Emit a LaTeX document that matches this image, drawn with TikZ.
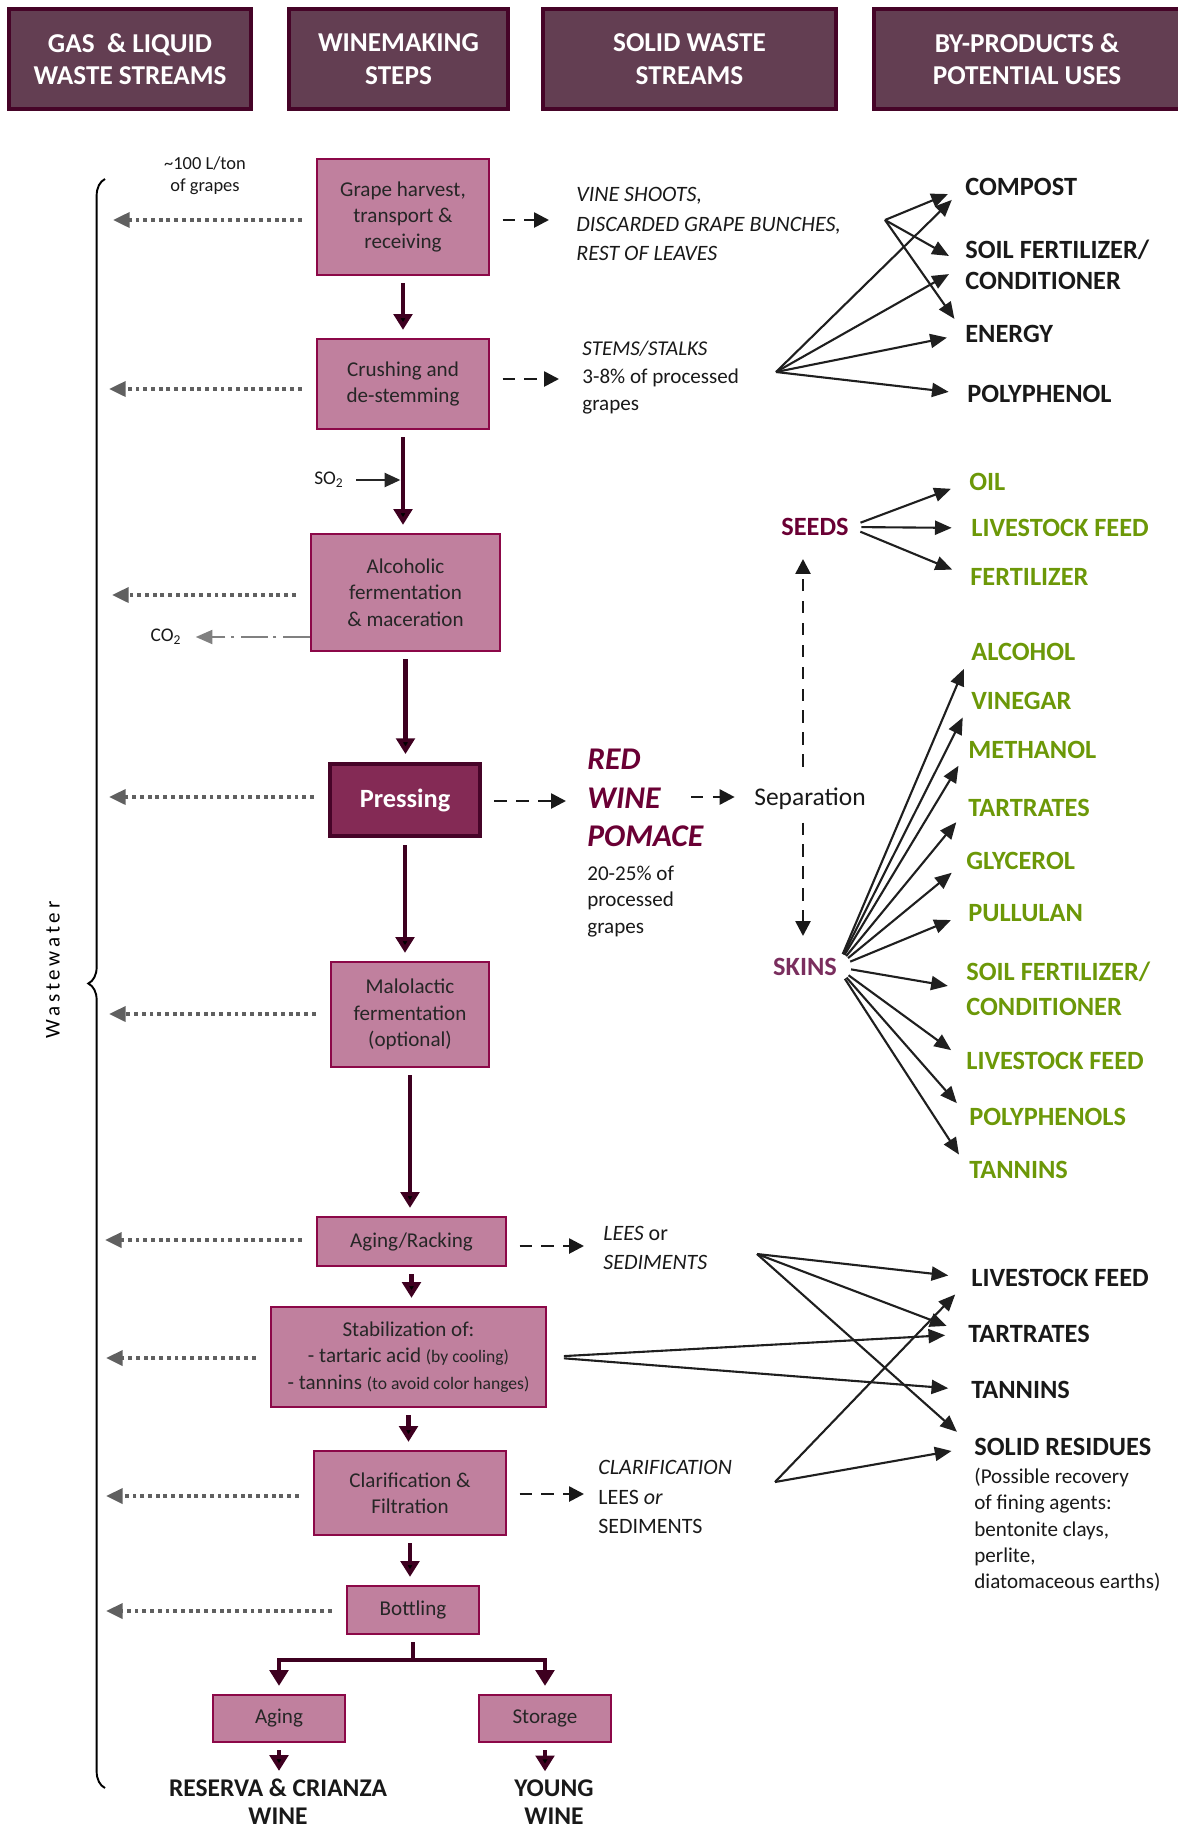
\documentclass[tikz,border=0pt]{standalone}
\usepackage{fontspec}
\setmainfont{Carlito}
\usetikzlibrary{arrows.meta,positioning,decorations.pathreplacing}
\definecolor{headfill}{RGB}{99,62,82}
\definecolor{headline}{RGB}{70,4,40}
\definecolor{boxfill}{RGB}{192,128,158}
\definecolor{boxline}{RGB}{140,8,72}
\definecolor{pressfill}{RGB}{132,42,85}
\definecolor{flowcol}{RGB}{62,0,32}
\definecolor{pomacecol}{RGB}{106,0,52}
\definecolor{skincol}{RGB}{122,46,94}
\definecolor{leafgreen}{RGB}{108,152,8}
\definecolor{watergray}{RGB}{96,96,96}

\begin{document}
\begin{tikzpicture}[x=0.02cm,y=-0.02cm,
  head box/.style={draw=headline,line width=2.3pt,fill=headfill,text=white,align=center,font=\fontsize{15.5}{18.5}\selectfont\bfseries,minimum height=2cm},
  stage box/.style={draw=boxline,line width=1.4pt,fill=boxfill,text=black!85,align=center,font=\fontsize{12}{15}\selectfont,inner sep=0pt},
  press box/.style={draw=headline,line width=2.3pt,fill=pressfill,text=white,font=\fontsize{15}{18}\selectfont\bfseries,minimum width=3cm,minimum height=1.44cm},
  main flow/.style={draw=flowcol,line width=2.8pt,-{Triangle[length=9pt,width=10.5pt]},shorten <=4pt,shorten >=4.5pt},
  water flow/.style={draw=watergray,line width=2.2pt,dash pattern=on 2.2pt off 2.2pt,-{Triangle[length=9.5pt,width=8.5pt]},shorten <=8pt},
  co2 flow/.style={draw=black!50,line width=1.1pt,dash pattern=on 15pt off 4pt on 2pt off 3pt,-{Triangle[length=9.5pt,width=8pt]},shorten >=8pt},
  residue flow/.style={draw=black!90,line width=1.5pt,dash pattern=on 7pt off 5.5pt,-{Triangle[length=8.5pt,width=8.5pt]},shorten <=7pt},
  fan flow/.style={draw=black!88,line width=1.2pt,-{Triangle[length=9.5pt,width=8pt]},shorten >=10.5pt},
  note/.style={inner sep=0pt,align=left,text=black!90,font=\fontsize{12}{15}\selectfont},
  stream/.style={note,font=\fontsize{12.5}{16.6}\selectfont\itshape},
  use black/.style={inner sep=0pt,anchor=west,align=left,text=black!90,font=\fontsize{15}{18}\selectfont\bfseries},
  use green/.style={use black,text=leafgreen},
  final/.style={inner sep=0pt,align=center,text=black!90,font=\fontsize{14.5}{16}\selectfont\bfseries}]

  \useasboundingbox (0,0) rectangle (1177,1832);

  \node[head box,minimum width=4.84cm] (hGas) at (130,59) {GAS\ \ \& LIQUID\\WASTE STREAMS};
  \node[head box,minimum width=4.38cm] (hSteps) at (398.5,59) {WINEMAKING\\STEPS};
  \node[head box,minimum width=5.86cm] (hSolid) at (689.5,59) {SOLID WASTE\\STREAMS};
  \node[head box,minimum width=6.12cm] (hUses) at (1027,59) {BY-PRODUCTS \&\\POTENTIAL USES};

  \node[stage box,minimum width=3.44cm,minimum height=2.32cm] (harvest) at (403,217) {Grape harvest,\\transport \&\\receiving};
  \node[stage box,minimum width=3.44cm,minimum height=1.8cm] (crush) at (403,384) {Crushing and\\de-stemming};
  \node[stage box,minimum width=3.78cm,minimum height=2.34cm] (alcferm) at (405.5,592.5) {Alcoholic\\fermentation\\\& maceration};
  \node[press box] (press) at (405,800) {Pressing};
  \node[stage box,minimum width=3.16cm,minimum height=2.1cm] (malo) at (410,1014.5) {Malolactic\\fermentation\\(optional)};
  \node[stage box,minimum width=3.78cm,minimum height=0.98cm] (racking) at (411.5,1241.5) {Aging/Racking};
  \node[stage box,minimum width=5.5cm,minimum height=2cm] (stab) at (408.5,1357) {Stabilization of:\\- tartaric acid {\fontsize{10}{15}\selectfont(by cooling)}\\- tannins {\fontsize{10}{15}\selectfont(to avoid color hanges)}};
  \node[stage box,minimum width=3.84cm,minimum height=1.68cm] (clar) at (410,1493) {Clarification \&\\Filtration};
  \node[stage box,minimum width=2.64cm,minimum height=0.96cm] (bottling) at (413,1610) {Bottling};
  \node[stage box,minimum width=2.64cm,minimum height=0.94cm] (aging) at (279,1718.5) {Aging};
  \node[stage box,minimum width=2.64cm,minimum height=0.94cm] (storage) at (545,1718.5) {Storage};
  \node[final] (reserva) at (278,1802) {RESERVA \& CRIANZA\\WINE};
  \node[final] (young) at (554,1802) {YOUNG\\WINE};

  \path[main flow]
    (harvest) edge (harvest |- crush.north)
    (crush) edge (crush |- alcferm.north)
    (alcferm) edge (alcferm |- press.north)
    (press) edge (press |- malo.north)
    (malo) edge (malo |- racking.north)
    (racking) edge (racking |- stab.north)
    (stab) edge (stab |- clar.north)
    (clar) edge (clar |- bottling.north)
    (aging) edge (aging |- reserva.north)
    (storage) edge (storage |- young.north);

  \coordinate (split) at (413,1660);
  \draw[main flow,-,shorten >=0pt] (bottling) -- (split);
  \draw[main flow,shorten <=0pt] (split) -| (aging);
  \draw[main flow,shorten <=0pt] (split) -| (storage);

  \node[note,font=\fontsize{11}{13}\selectfont] (so2) at (329,480) {SO\textsubscript{2}};
  \draw[line width=1.3pt,black!85,-{Triangle[length=9pt,width=8pt]},shorten <=7pt,shorten >=1.5pt] (so2) -- (so2 -| crush);
  \node[note,font=\fontsize{11}{13}\selectfont] (co2) at (166,637) {CO\textsubscript{2}};
  \draw[co2 flow] (alcferm.west |- co2) -- (co2);

  \node[note,align=center,font=\fontsize{10.5}{12.5}\selectfont] (perton) at (205,176) {\textasciitilde100 L/ton\\of grapes};
  \node[rotate=90,font=\fontsize{12}{14}\selectfont\addfontfeatures{LetterSpace=18}] (wastewater) at (53,970) {Wastewater};
  \coordinate (bracetop) at (105,179);
  \coordinate (bracebot) at (105,1788);
  \draw[decorate,decoration={brace,amplitude=9.5pt},line width=1.1pt] (bracebot) -- (bracetop);

  \coordinate (w1) at (113,220);
  \coordinate (w2) at (109,389);
  \coordinate (w3) at (112,595);
  \coordinate (w4) at (109,797);
  \coordinate (w5) at (109,1014);
  \coordinate (w6) at (105,1240);
  \coordinate (w7) at (106,1358);
  \coordinate (w8) at (106,1496);
  \coordinate (w9) at (106,1611);
  \draw[water flow] (harvest.west |- w1) -- (w1);
  \draw[water flow] (crush.west |- w2) -- (w2);
  \draw[water flow] (alcferm.west |- w3) -- (w3);
  \draw[water flow] (press.west |- w4) -- (w4);
  \draw[water flow] (malo.west |- w5) -- (w5);
  \draw[water flow] (racking.west |- w6) -- (w6);
  \draw[water flow] (stab.west |- w7) -- (w7);
  \draw[water flow] (clar.west |- w8) -- (w8);
  \draw[water flow] (bottling.west |- w9) -- (w9);

  \node[stream,anchor=west] (vine) at (576,224) {VINE SHOOTS,\\DISCARDED GRAPE BUNCHES,\\REST OF LEAVES};
  \node[note,anchor=west,font=\fontsize{12}{15.6}\selectfont] (stems) at (582,378) {\textit{STEMS/STALKS}\\3-8\% of processed\\grapes};
  \node[note,anchor=west,text=pomacecol,font=\fontsize{18}{22}\selectfont\bfseries\itshape] (pomace) at (587,798) {RED\\WINE\\POMACE};
  \node[note,anchor=west] (pomacepct) at (587,901.5) {20-25\% of\\processed\\grapes};
  \node[note,font=\fontsize{14.5}{17}\selectfont] (sep) at (810,799) {Separation};
  \node[stream,anchor=west] (lees) at (603,1248) {LEES \upshape or\\SEDIMENTS};
  \node[stream,anchor=west] (clarlees) at (598,1497) {CLARIFICATION\\\upshape LEES \itshape or\\\upshape SEDIMENTS};

  \coordinate (s1) at (549,220);
  \coordinate (s2) at (559,379);
  \coordinate (s3) at (566,801);
  \coordinate (s4) at (584,1246);
  \coordinate (s5) at (584,1494);
  \draw[residue flow] (harvest.east |- s1) -- (s1);
  \draw[residue flow] (crush.east |- s2) -- (s2);
  \draw[residue flow] (press.east |- s3) -- (s3);
  \draw[residue flow] (racking.east |- s4) -- (s4);
  \draw[residue flow] (clar.east |- s5) -- (s5);
  \coordinate (pomx) at (691,797);
  \draw[residue flow,shorten <=0pt,shorten >=11pt] (pomx) -- (pomx -| sep.west);

  \node[use black,anchor=center,text=pomacecol] (seeds) at (815,527) {SEEDS};
  \node[use black,anchor=center,text=skincol] (skins) at (805,967) {SKINS};
  \coordinate (seedtip) at (803,559);
  \coordinate (skintip) at (803,936);
  \draw[residue flow,shorten <=12pt] (sep.north -| seedtip) -- (seedtip);
  \draw[residue flow,shorten <=7pt] (sep.south -| skintip) -- (skintip);

  \node[use black] (compost) at (965,187) {COMPOST};
  \node[use black] (soil) at (965,265) {SOIL FERTILIZER/\\CONDITIONER};
  \node[use black] (energy) at (965,334) {ENERGY};
  \node[use black] (polyphenol) at (967,394) {POLYPHENOL};

  \node[use green] (oil) at (969,482) {OIL};
  \node[use green] (seedfeed) at (971,528) {LIVESTOCK FEED};
  \node[use green] (seedfert) at (970,577) {FERTILIZER};

  \node[use green] (alcohol) at (971,652) {ALCOHOL};
  \node[use green] (vinegar) at (971,701) {VINEGAR};
  \node[use green] (methanol) at (968,750) {METHANOL};
  \node[use green] (tartrates) at (968,808) {TARTRATES};
  \node[use green] (glycerol) at (966,861) {GLYCEROL};
  \node[use green] (pullulan) at (968,913) {PULLULAN};
  \node[use green,font=\fontsize{15}{20}\selectfont\bfseries] (skinsoil) at (966,989) {SOIL FERTILIZER/\\CONDITIONER};
  \node[use green] (skinfeed) at (966,1061) {LIVESTOCK FEED};
  \node[use green] (polyphenols) at (969,1117) {POLYPHENOLS};
  \node[use green] (tannins) at (969,1170) {TANNINS};

  \node[use black] (leesfeed) at (971,1278) {LIVESTOCK FEED};
  \node[use black] (leestartrates) at (968,1334) {TARTRATES};
  \node[use black] (leestannins) at (971,1390) {TANNINS};
  \node[use black] (residues) at (974,1447) {SOLID RESIDUES};
  \node[note,anchor=west] (recovery) at (974,1530) {(Possible recovery\\of fining agents:\\bentonite clays,\\perlite,\\diatomaceous earths)};

  \coordinate (vinefan) at (885,220);
  \coordinate (stemfan) at (776,372);
  \coordinate (leesfan) at (757,1254);
  \coordinate (clarfan) at (775,1482);

  \draw[fan flow] (vinefan) -- (compost.west);
  \draw[fan flow] (vinefan) -- (soil.west);
  \draw[fan flow] (vinefan) -- (energy.west);
  \draw[fan flow] (stemfan) -- (compost.west);
  \draw[fan flow] (stemfan) -- (soil.west);
  \draw[fan flow] (stemfan) -- (energy.west);
  \draw[fan flow] (stemfan) -- (polyphenol.west);

  \draw[fan flow,shorten <=7pt,shorten >=11pt] (seeds.east) -- (oil.west);
  \draw[fan flow,shorten <=7pt,shorten >=11pt] (seeds.east) -- (seedfeed.west);
  \draw[fan flow,shorten <=7pt,shorten >=11pt] (seeds.east) -- (seedfert.west);

  \draw[fan flow,shorten <=8pt] (skins.east) -- (alcohol.west);
  \draw[fan flow,shorten <=8pt] (skins.east) -- (vinegar.west);
  \draw[fan flow,shorten <=8pt] (skins.east) -- (methanol.west);
  \draw[fan flow,shorten <=8pt] (skins.east) -- (tartrates.west);
  \draw[fan flow,shorten <=8pt] (skins.east) -- (glycerol.west);
  \draw[fan flow,shorten <=8pt] (skins.east) -- (pullulan.west);
  \draw[fan flow,shorten <=8pt] (skins.east) -- (skinsoil.west);
  \draw[fan flow,shorten <=8pt] (skins.east) -- (skinfeed.west);
  \draw[fan flow,shorten <=8pt] (skins.east) -- (polyphenols.west);
  \draw[fan flow,shorten <=8pt] (skins.east) -- (tannins.west);

  \draw[fan flow,shorten >=13pt] (leesfan) -- (leesfeed.west);
  \draw[fan flow,shorten >=13pt] (leesfan) -- (leestartrates.west);
  \draw[fan flow,shorten >=13pt] (leesfan) -- (residues.west);
  \draw[fan flow,shorten <=9.5pt,shorten >=13pt] (stab.east) -- (leestartrates.west);
  \draw[fan flow,shorten <=9.5pt,shorten >=13pt] (stab.east) -- (leestannins.west);
  \draw[fan flow,shorten >=13pt] (clarfan) -- (leesfeed.west);
  \draw[fan flow,shorten >=13pt] (clarfan) -- (residues.west);
\end{tikzpicture}
\end{document}
